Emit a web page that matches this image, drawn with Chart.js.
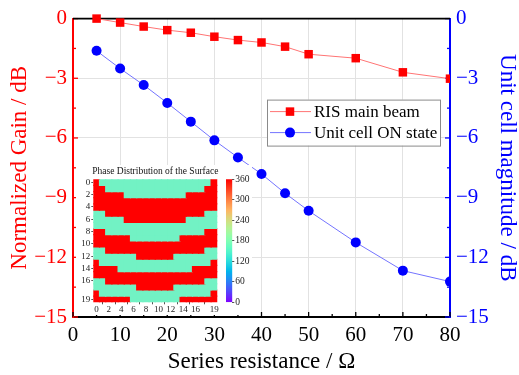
<!DOCTYPE html>
<html>
<head>
<meta charset="utf-8">
<script src="https://cdn.jsdelivr.net/npm/chart.js@4.4.1/dist/chart.umd.min.js"></script>
<style>
html,body{margin:0;padding:0;background:#fff;}
#wrap{position:relative;width:519px;height:375px;overflow:hidden;background:#fff;}
#main{position:absolute;left:0;top:0;}
#inset{position:absolute;left:76px;top:165px;background:#fff;}
#cbar{position:absolute;left:222px;top:165px;background:#fff;}
</style>
</head>
<body>
<div id="wrap">
<canvas id="main" width="519" height="375"></canvas>
<canvas id="inset" width="146" height="150"></canvas>
<canvas id="cbar" width="30" height="150"></canvas>
</div>
<script>
// ---------- main chart data ----------
const resistance   = [5, 10, 15, 20, 25, 30, 35, 40, 45, 50, 60, 70, 80];
const risMainBeam  = [0, -0.2, -0.4, -0.58, -0.71, -0.91, -1.08, -1.2, -1.41, -1.79, -1.99, -2.7, -3.02];
const unitCellOn   = [-1.62, -2.51, -3.34, -4.24, -5.18, -6.12, -6.98, -7.81, -8.78, -9.66, -11.25, -12.67, -13.22];
const xTickValues  = [0, 10, 20, 30, 40, 50, 60, 70, 80];
const yTickValues  = [-15, -12, -9, -6, -3, 0];
const seriesNames  = ['RIS main beam', 'Unit cell ON state'];

// ---------- inset data (phase distribution, degrees) ----------
const R = 360, G = 180;
const phaseRows = [
  [R,G,G,G,G, G,G,G,G,G, G,G,G,G,G, G,G,G,G,R],
  [R,R,G,G,G, G,G,G,G,G, G,G,G,G,G, G,G,G,R,R],
  [R,R,R,R,R, G,G,G,G,G, G,G,G,G,G, R,R,R,R,R],
  [R,R,R,R,R, R,R,R,R,R, R,R,R,R,R, R,R,R,R,R],
  [R,R,R,R,R, R,R,R,R,R, R,R,R,R,R, R,R,R,R,R],
  [G,G,R,R,R, R,R,R,R,R, R,R,R,R,R, R,R,R,G,G],
  [G,G,G,G,G, R,R,R,R,R, R,R,R,R,R, G,G,G,G,G],
  [G,G,G,G,G, G,G,G,G,G, G,G,G,G,G, G,G,G,G,G],
  [R,R,G,G,G, G,G,G,G,G, G,G,G,G,G, G,G,G,R,R],
  [R,R,R,R,R, R,G,G,G,G, G,G,G,G,R, R,R,R,R,R],
  [R,R,R,R,R, R,R,R,R,R, R,R,R,R,R, R,R,R,R,R],
  [G,G,R,R,R, R,R,R,R,R, R,R,R,R,R, R,R,R,G,G],
  [G,G,G,G,G, G,G,R,R,R, R,R,R,G,G, G,G,G,G,G],
  [R,G,G,G,G, G,G,G,G,G, G,G,G,G,G, G,G,G,G,R],
  [R,R,R,R,G, G,G,G,G,G, G,G,G,G,G, G,R,R,R,R],
  [R,R,R,R,R, R,R,R,R,R, R,R,R,R,R, R,R,R,R,R],
  [G,G,R,R,R, R,R,R,R,R, R,R,R,R,R, R,R,R,G,G],
  [G,G,G,G,G, G,G,R,R,R, R,R,R,G,G, G,G,G,G,G],
  [R,G,G,G,G, G,G,G,G,G, G,G,G,G,G, G,G,G,G,R],
  [R,R,R,R,R, R,G,G,G,G, G,G,G,G,R, R,R,R,R,R]
];
const colLabels     = ['0','1','2','3','4','5','6','7','8','9','10','11','12','13','14','15','16','17','18','19'];
const colTickIdx    = [0, 2, 4, 6, 8, 10, 12, 14, 16, 19];
const rowTickIdx    = [0, 2, 4, 6, 8, 10, 12, 14, 16, 19];
const colorbarRange = [0, 360];
const colorbarTicks = [0, 60, 120, 180, 240, 300, 360];

const SERIF = "'Liberation Serif', 'Times New Roman', serif";
const RED = '#FF0000', BLUE = '#0000FF';
const minus = v => String(v).replace('-', '\u2212');

// ---------- plugins ----------
const axisDecor = {
  id: 'axisDecor',
  beforeDatasetsDraw(chart) {
    const ctx = chart.ctx, a = chart.chartArea;
    const {x, y, y2} = chart.scales;
    ctx.save();
    ctx.lineWidth = 1.3;
    const mids = s => {
      const t = s.ticks.map(k => k.value), out = [];
      for (let i = 0; i < t.length - 1; i++) out.push((t[i] + t[i + 1]) / 2);
      return out;
    };
    ctx.strokeStyle = '#000';
    x.ticks.forEach(k => { const p = x.getPixelForValue(k.value); ctx.beginPath(); ctx.moveTo(p, a.bottom); ctx.lineTo(p, a.bottom - 5); ctx.stroke(); });
    mids(x).forEach(v => { const p = x.getPixelForValue(v); ctx.beginPath(); ctx.moveTo(p, a.bottom); ctx.lineTo(p, a.bottom - 3); ctx.stroke(); });
    ctx.strokeStyle = RED;
    y.ticks.forEach(k => { const p = y.getPixelForValue(k.value); ctx.beginPath(); ctx.moveTo(a.left, p); ctx.lineTo(a.left + 5, p); ctx.stroke(); });
    mids(y).forEach(v => { const p = y.getPixelForValue(v); ctx.beginPath(); ctx.moveTo(a.left, p); ctx.lineTo(a.left + 3, p); ctx.stroke(); });
    ctx.strokeStyle = BLUE;
    y2.ticks.forEach(k => { const p = y2.getPixelForValue(k.value); ctx.beginPath(); ctx.moveTo(a.right, p); ctx.lineTo(a.right - 5, p); ctx.stroke(); });
    mids(y2).forEach(v => { const p = y2.getPixelForValue(v); ctx.beginPath(); ctx.moveTo(a.right, p); ctx.lineTo(a.right - 3, p); ctx.stroke(); });
    ctx.strokeStyle = '#000';
    ctx.lineWidth = 1.6;
    ctx.beginPath(); ctx.moveTo(a.left, a.top); ctx.lineTo(a.right, a.top); ctx.stroke();
    ctx.restore();
  }
};

const boxLegend = {
  id: 'boxLegend',
  afterDraw(chart) {
    const ctx = chart.ctx, a = chart.chartArea;
    const bx = a.right - 183, by = a.top + 81, bw = 173, bh = 46;
    ctx.save();
    ctx.fillStyle = '#fff';
    ctx.fillRect(bx, by, bw, bh);
    ctx.strokeStyle = '#8a8a8a';
    ctx.lineWidth = 1;
    ctx.strokeRect(bx + 0.5, by + 0.5, bw, bh);
    chart.data.datasets.forEach((ds, i) => {
      const cy = by + 12 + i * 21;
      ctx.strokeStyle = ds.borderColor;
      ctx.lineWidth = ds.borderWidth;
      ctx.beginPath(); ctx.moveTo(bx + 3, cy); ctx.lineTo(bx + 44, cy); ctx.stroke();
      ctx.fillStyle = ds.pointBackgroundColor;
      const mx = bx + 23;
      if (ds.pointStyle === 'rect') {
        const h = ds.pointRadius * Math.SQRT1_2;
        ctx.fillRect(mx - h, cy - h, 2 * h, 2 * h);
      } else {
        ctx.beginPath(); ctx.arc(mx, cy, ds.pointRadius, 0, Math.PI * 2); ctx.fill();
      }
      ctx.fillStyle = '#000';
      ctx.font = '17px ' + SERIF;
      ctx.textAlign = 'left';
      ctx.textBaseline = 'middle';
      ctx.fillText(ds.label, bx + 47, cy + 1);
    });
    ctx.restore();
  }
};

// ---------- main chart ----------
new Chart(document.getElementById('main'), {
  type: 'line',
  data: {
    datasets: [
      {
        label: seriesNames[0],
        data: resistance.map((r, i) => ({x: r, y: risMainBeam[i]})),
        yAxisID: 'y',
        borderColor: '#FF7474', borderWidth: 1,
        pointStyle: 'rect', pointRadius: 6,
        pointBackgroundColor: RED, pointBorderColor: RED, pointBorderWidth: 0,
        clip: {left: 0, top: false, right: 0, bottom: 0}
      },
      {
        label: seriesNames[1],
        data: resistance.map((r, i) => ({x: r, y: unitCellOn[i]})),
        yAxisID: 'y2',
        borderColor: '#7474FF', borderWidth: 1,
        pointStyle: 'circle', pointRadius: 5,
        pointBackgroundColor: BLUE, pointBorderColor: BLUE, pointBorderWidth: 0,
        clip: {left: 0, top: false, right: 0, bottom: 0}
      }
    ]
  },
  options: {
    responsive: false, animation: false, devicePixelRatio: 1,
    layout: {padding: {top: 15, left: 0, right: 0, bottom: 0}},
    plugins: {legend: {display: false}, tooltip: {enabled: false}},
    scales: {
      x: {
        type: 'linear', position: 'bottom', min: 0, max: 80,
        afterBuildTicks: s => { s.ticks = xTickValues.map(v => ({value: v})); },
        afterFit: s => { s.height = 58; },
        ticks: {font: {family: SERIF, size: 21}, color: '#000', padding: 6, maxRotation: 0},
        grid: {color: '#e2e2e2', lineWidth: 1, drawTicks: false},
        border: {color: '#000', width: 2},
        title: {display: true, text: 'Series resistance / \u03A9', color: '#000',
                font: {family: SERIF, size: 23, lineHeight: 1}, padding: {top: 0, bottom: 1.5}}
      },
      y: {
        type: 'linear', position: 'left', min: -15, max: 0,
        afterBuildTicks: s => { s.ticks = yTickValues.map(v => ({value: v})); },
        afterFit: s => { s.width = 73; },
        ticks: {font: {family: SERIF, size: 21}, color: RED, padding: 6, callback: v => minus(v)},
        grid: {color: '#e2e2e2', lineWidth: 1, drawTicks: false},
        border: {color: RED, width: 2},
        title: {display: true, text: 'Normalized Gain / dB', color: RED,
                font: {family: SERIF, size: 23, lineHeight: 1}, padding: {top: 8, bottom: 0}}
      },
      y2: {
        type: 'linear', position: 'right', min: -15, max: 0,
        afterBuildTicks: s => { s.ticks = yTickValues.map(v => ({value: v})); },
        afterFit: s => { s.width = 69; },
        ticks: {font: {family: SERIF, size: 21}, color: BLUE, padding: 6, callback: v => minus(v)},
        grid: {drawOnChartArea: false, drawTicks: false},
        border: {color: BLUE, width: 2},
        title: {display: true, text: 'Unit cell magnitude / dB', color: BLUE,
                font: {family: SERIF, size: 23, lineHeight: 1}, padding: {top: 0.5, bottom: 0}}
      }
    }
  },
  plugins: [axisDecor, boxLegend]
});

// ---------- inset heatmap ----------
const cellColor = v => (v >= 270 ? 'rgb(255,0,0)' : 'rgb(114,242,196)');
const heatTitle = {
  id: 'heatTitle',
  afterDraw(chart) {
    const ctx = chart.ctx, a = chart.chartArea;
    ctx.save();
    ctx.fillStyle = '#111';
    ctx.font = '9.5px ' + SERIF;
    ctx.textAlign = 'center';
    ctx.textBaseline = 'middle';
    ctx.fillText('Phase Distribution of the Surface', (a.left + a.right) / 2, a.top - 7.5);
    ctx.restore();
  }
};
new Chart(document.getElementById('inset'), {
  type: 'bar',
  data: {
    labels: colLabels,
    datasets: phaseRows.map((row, r) => ({
      data: row.map(() => [r, r + 1]),
      backgroundColor: row.map(cellColor),
      borderWidth: 0,
      grouped: false,
      barPercentage: 1,
      categoryPercentage: 1,
      inflateAmount: 0.6
    }))
  },
  options: {
    responsive: false, animation: false, devicePixelRatio: 1,
    layout: {padding: {top: 14.3, left: 0, right: 4.7, bottom: 0}},
    plugins: {legend: {display: false}, tooltip: {enabled: false}},
    scales: {
      x: {
        type: 'category',
        afterBuildTicks: s => { s.ticks = colTickIdx.map(v => ({value: v})); },
        afterFit: s => { s.height = 12.7; },
        ticks: {font: {family: SERIF, size: 9}, color: '#222', padding: 0, autoSkip: false, maxRotation: 0},
        grid: {drawOnChartArea: false, drawTicks: true, tickLength: 2, color: '#555'},
        border: {display: false}
      },
      y: {
        type: 'linear', reverse: true, min: 0, max: 20,
        afterBuildTicks: s => { s.ticks = rowTickIdx.map(v => ({value: v + 0.5})); },
        afterFit: s => { s.width = 17.3; },
        ticks: {font: {family: SERIF, size: 9}, color: '#222', padding: 1, autoSkip: false, callback: v => String(v - 0.5)},
        grid: {drawOnChartArea: false, drawTicks: true, tickLength: 2, color: '#555'},
        border: {display: false}
      }
    }
  },
  plugins: [heatTitle]
});

// ---------- inset colorbar ----------
function rainbow(t) {
  const r = Math.min(1, Math.abs(2 * t - 0.5));
  const g = Math.sin(Math.PI * t);
  const b = Math.cos(Math.PI * t / 2);
  return 'rgb(' + Math.round(r * 255) + ',' + Math.round(g * 255) + ',' + Math.round(Math.max(0, b) * 255) + ')';
}
new Chart(document.getElementById('cbar'), {
  type: 'bar',
  data: {
    labels: ['phase'],
    datasets: [{
      data: [colorbarRange],
      backgroundColor: c => {
        const ys = c.chart.scales.y;
        const area = c.chart.chartArea;
        if (!ys || !area) return 'rgb(255,0,0)';
        const y0 = ys.getPixelForValue(colorbarRange[0]);
        const y1 = ys.getPixelForValue(colorbarRange[1]);
        if (!isFinite(y0) || !isFinite(y1) || y0 === y1) return 'rgb(255,0,0)';
        const g = c.chart.ctx.createLinearGradient(0, y0, 0, y1);
        for (let i = 0; i <= 20; i++) g.addColorStop(i / 20, rainbow(i / 20));
        return g;
      },
      borderWidth: 0, barPercentage: 1, categoryPercentage: 1
    }]
  },
  options: {
    responsive: false, animation: false, devicePixelRatio: 1,
    layout: {padding: {top: 14.3, left: 4, right: 0, bottom: 12.7}},
    plugins: {legend: {display: false}, tooltip: {enabled: false}},
    scales: {
      x: {display: false},
      y: {
        position: 'right', min: colorbarRange[0], max: colorbarRange[1],
        afterBuildTicks: s => { s.ticks = colorbarTicks.map(v => ({value: v})); },
        afterFit: s => { s.width = 19.7; },
        ticks: {font: {family: SERIF, size: 9.5}, color: '#222', padding: 1, autoSkip: false},
        grid: {drawOnChartArea: false, drawTicks: true, tickLength: 2, color: '#555'},
        border: {display: false}
      }
    }
  }
});
</script>
</body>
</html>
